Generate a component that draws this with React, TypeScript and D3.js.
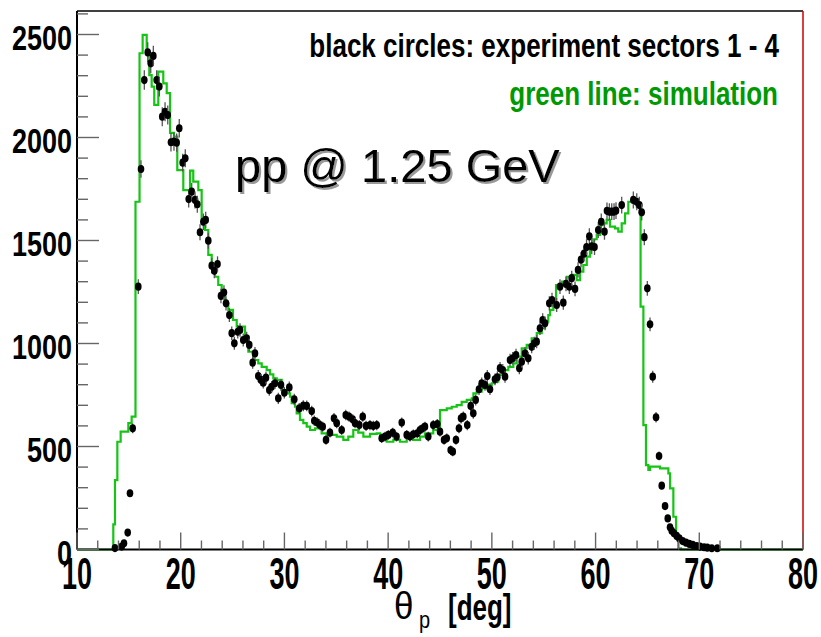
import React from 'react';
import * as d3 from 'd3';

// Simulation histogram: step left edges (deg) and contents
const simEdges = [10, 13.5, 13.66, 13.89, 14.21, 14.95, 15.27, 15.64, 16.03, 16.33, 16.72, 16.97, 17.2, 17.45, 17.84, 18.32, 18.65, 18.97, 19.35, 19.67, 20.25, 20.9, 21.21, 21.7, 22.02, 22.34, 22.66, 22.99, 23.31, 23.62, 23.95, 24.27, 24.59, 25.04, 25.4, 26.2, 26.52, 27.0, 27.48, 27.81, 28.29, 28.61, 28.93, 29.26, 29.74, 30.22, 30.54, 30.7, 31.02, 31.18, 31.5, 31.82, 32.15, 32.47, 32.95, 33.59, 34.08, 35.04, 35.68, 36.16, 36.64, 37.12, 37.61, 38.25, 38.9, 39.22, 39.86, 40.5, 41.14, 41.79, 42.4, 43.07, 43.55, 44.35, 44.84, 45.0, 45.65, 46.13, 46.61, 47.09, 47.58, 48.06, 48.22, 48.54, 49.02, 49.51, 49.99, 50.3, 50.62, 51.11, 51.59, 52.07, 52.4, 52.88, 53.36, 53.84, 54.33, 54.81, 55.13, 55.44, 55.61, 55.93, 56.19, 56.76, 57.22, 57.7, 58.18, 58.5, 58.82, 59.15, 59.46, 59.78, 60.11, 60.43, 60.75, 61.07, 61.39, 61.87, 62.19, 62.52, 62.84, 63.16, 63.97, 64.29, 64.34, 64.61, 64.86, 65.09, 65.25, 66.21, 67.02, 67.18, 67.5, 67.76, 67.98, 68.24, 80];
const simCounts = [0, 122, 337, 523, 572, 613, 645, 1688, 2409, 2498, 2409, 2303, 2247, 2158, 2320, 2263, 2215, 2022, 2004, 1842, 1745, 1839, 1786, 1745, 1608, 1551, 1430, 1373, 1324, 1284, 1251, 1195, 1163, 1114, 1082, 1033, 960, 920, 904, 887, 871, 850, 831, 823, 774, 758, 742, 710, 693, 661, 629, 613, 596, 580, 588, 564, 556, 548, 532, 548, 580, 567, 548, 561, 564, 532, 523, 532, 523, 540, 532, 548, 564, 580, 588, 677, 685, 693, 701, 717, 726, 734, 758, 766, 782, 799, 807, 815, 847, 871, 887, 904, 936, 977, 993, 1025, 1050, 1074, 1106, 1138, 1163, 1195, 1284, 1300, 1324, 1333, 1308, 1349, 1381, 1422, 1462, 1506, 1527, 1575, 1583, 1600, 1567, 1559, 1543, 1583, 1632, 1688, 1664, 1648, 1179, 604, 410, 386, 402, 394, 370, 297, 159, 54, 6, 0, 0];

// Experiment points (sectors 1-4)
const expTheta = [13.66, 14.31, 14.53, 14.89, 15.11, 15.37, 15.91, 16.17, 16.49, 16.82, 17.11, 17.36, 17.68, 17.94, 18.22, 18.49, 18.75, 19.06, 19.35, 19.61, 19.86, 20.19, 20.44, 20.77, 21.06, 21.38, 21.6, 21.86, 22.18, 22.41, 22.66, 22.99, 23.24, 23.55, 23.88, 24.17, 24.37, 24.69, 24.92, 25.17, 25.5, 25.72, 26.03, 26.36, 26.61, 26.94, 27.16, 27.48, 27.74, 27.96, 28.22, 28.54, 28.77, 29.09, 29.41, 29.67, 29.99, 30.47, 30.95, 31.43, 31.82, 32.15, 32.63, 32.88, 33.17, 33.43, 33.69, 34.01, 34.39, 34.78, 35.04, 35.52, 35.91, 36.23, 36.58, 36.81, 37.22, 37.55, 37.87, 38.25, 38.57, 38.9, 39.38, 39.7, 40.02, 40.44, 40.81, 41.31, 41.79, 42.11, 42.43, 42.81, 43.07, 43.33, 43.55, 43.87, 44.35, 44.74, 45.0, 45.39, 45.65, 46.03, 46.23, 46.54, 46.83, 47.03, 47.25, 47.63, 47.96, 48.21, 48.44, 48.76, 49.02, 49.34, 49.56, 49.82, 50.3, 50.53, 50.79, 51.05, 51.27, 51.75, 52.01, 52.33, 52.65, 52.88, 53.2, 53.51, 53.84, 54.09, 54.32, 54.64, 54.9, 55.13, 55.54, 55.8, 56.25, 56.57, 56.89, 57.15, 57.47, 57.7, 58.02, 58.31, 58.6, 58.89, 59.13, 59.4, 59.63, 59.9, 60.26, 60.55, 60.86, 61.1, 61.33, 61.56, 61.78, 61.97, 62.52, 63.64, 63.97, 64.22, 64.45, 64.7, 64.99, 65.25, 65.51, 65.83, 66.12, 66.38, 66.7, 66.96, 67.18, 67.34, 67.56, 67.82, 68.07, 68.4, 68.72, 69.04, 69.37, 69.75, 70.07, 70.46, 70.77, 71.2, 71.74];
const expCounts = [7, 14, 30, 82, 273, 588, 1276, 1847, 2279, 2413, 2360, 2396, 2279, 2247, 2101, 2125, 2109, 1977, 1980, 1975, 2045, 1878, 1899, 1701, 1737, 1697, 1676, 1540, 1591, 1600, 1499, 1378, 1353, 1386, 1231, 1247, 1195, 1138, 1050, 1001, 1057, 1066, 1017, 1025, 993, 907, 952, 842, 823, 810, 834, 774, 790, 807, 734, 799, 761, 787, 729, 685, 698, 697, 672, 625, 616, 604, 596, 532, 567, 637, 613, 580, 653, 645, 632, 613, 604, 645, 600, 604, 600, 604, 540, 548, 556, 567, 548, 616, 556, 548, 559, 564, 580, 588, 596, 548, 604, 609, 572, 532, 540, 483, 475, 532, 588, 637, 645, 604, 697, 661, 726, 778, 807, 799, 842, 778, 826, 836, 880, 871, 839, 920, 928, 944, 880, 912, 952, 928, 984, 1001, 1009, 1074, 1114, 1098, 1195, 1211, 1187, 1276, 1198, 1289, 1276, 1317, 1265, 1357, 1407, 1436, 1468, 1520, 1471, 1468, 1551, 1591, 1543, 1644, 1640, 1640, 1640, 1645, 1672, 1697, 1688, 1672, 1637, 1516, 1268, 1093, 839, 642, 454, 310, 211, 151, 108, 91, 79, 66, 54, 41, 33, 27, 22, 17, 14, 11, 9, 6, 6];

const xTickLabels = ['10', '20', '30', '40', '50', '60', '70', '80'];
const yTickLabels = ['0', '500', '1000', '1500', '2000', '2500'];
const legendLines = ['black circles: experiment sectors 1 - 4', 'green line: simulation'];
const titleText = 'pp @ 1.25 GeV';

const FONT = '"Liberation Sans", Arial, Helvetica, sans-serif';

export default function App() {
  const W = 821, H = 637;
  const x = d3.scaleLinear().domain([10, 80]).range([77, 803]);
  const y = d3.scaleLinear().domain([0, 2500]).range([549.5, 34.5]);
  const yMaxVal = y.invert(11);

  const simPts: [number, number][] = simEdges.map((e, i) => [e, simCounts[i]]);
  const stepLine = d3.line<[number, number]>()
    .x(d => x(d[0]))
    .y(d => y(d[1]))
    .curve(d3.curveStepAfter);

  const xMinor = d3.range(10, 80.001, 2);
  const yMinor = d3.range(0, yMaxVal, 100);

  return (
    <svg width={W} height={H} style={{ position: 'absolute', left: 0, top: 0, background: '#fff' }}>
      <defs>
        <filter id="shadow" x="-5%" y="-20%" width="115%" height="150%">
          <feDropShadow dx={2} dy={2} stdDeviation={0.6} floodColor="#999" floodOpacity={1} />
        </filter>
      </defs>
      <rect x={0} y={0} width={W} height={H} fill="#fff" />
      {/* frame */}
      <line x1={x(10)} x2={x(80)} y1={y(yMaxVal)} y2={y(yMaxVal)} stroke="#000" strokeWidth={1.5} />
      <line x1={x(80)} x2={x(80)} y1={y(yMaxVal)} y2={y(0)} stroke="#cc0000" strokeWidth={1.5} />

      {/* simulation histogram */}
      <path d={stepLine(simPts) || ''} fill="none" stroke="#16c416" strokeWidth={2.2} />

      {/* experiment points */}
      {expTheta.map((t, i) => {
        const v = expCounts[i];
        const e = Math.sqrt(v);
        return (
          <g key={i}>
            <line x1={x(t)} x2={x(t)} y1={y(v + e)} y2={y(Math.max(0, v - e))} stroke="#555" strokeWidth={1.3} />
            <ellipse cx={x(t)} cy={y(v)} rx={3.3} ry={4.1} fill="#000" />
          </g>
        );
      })}

      {/* axes */}
      <line x1={x(10)} x2={x(80)} y1={y(0)} y2={y(0)} stroke="#000" strokeWidth={2} />
      <line x1={x(10)} x2={x(10)} y1={y(0)} y2={y(yMaxVal)} stroke="#000" strokeWidth={2} />
      {xMinor.map(d => {
        const major = Math.abs(d % 10) < 1e-6;
        return <line key={'xt' + d} x1={x(d)} x2={x(d)} y1={y(0)} y2={y(0) - (major ? 17 : 9)} stroke="#666" strokeWidth={1.4} />;
      })}
      {yMinor.map(d => {
        const major = d % 500 === 0;
        return <line key={'yt' + d} x1={x(10)} x2={x(10) + (major ? 22 : 11)} y1={y(d)} y2={y(d)} stroke="#666" strokeWidth={1.4} />;
      })}

      {/* tick labels */}
      {yTickLabels.map(s => (
        <text key={'yl' + s} transform={`translate(72,${y(+s) + 15}) scale(1,1.3)`} textAnchor="end"
          fontFamily={FONT} fontWeight="bold" fontSize={27} fill="#000">{s}</text>
      ))}
      {xTickLabels.map(s => (
        <text key={'xl' + s} transform={`translate(${x(+s)},${589}) scale(0.9,1.45)`} textAnchor="middle"
          fontFamily={FONT} fontWeight="bold" fontSize={30} fill="#000">{s}</text>
      ))}

      {/* axis title */}
      <g>
        <text transform="translate(394,619) scale(1,1.12)" fontFamily={FONT} fontSize={35} fill="#000">θ</text>
        <text transform="translate(419,628) scale(1,1.2)" fontFamily={FONT} fontSize={20} fill="#000">p</text>
        <text transform="translate(448,620) scale(1,1.45)" fontFamily={FONT} fontWeight="bold" fontSize={26} fill="#000">[deg]</text>
      </g>

      {/* legend */}
      <text transform="translate(779,57) scale(1,1.28)" textAnchor="end" fontFamily={FONT} fontWeight="bold" fontSize={26} fill="#000">{legendLines[0]}</text>
      <text transform="translate(778,105) scale(1,1.28)" textAnchor="end" fontFamily={FONT} fontWeight="bold" fontSize={26} fill="#009900">{legendLines[1]}</text>

      {/* title with shadow */}
      <text x={235} y={182} fontFamily={FONT} fontSize={47} fill="#000" filter="url(#shadow)">{titleText}</text>
    </svg>
  );
}
